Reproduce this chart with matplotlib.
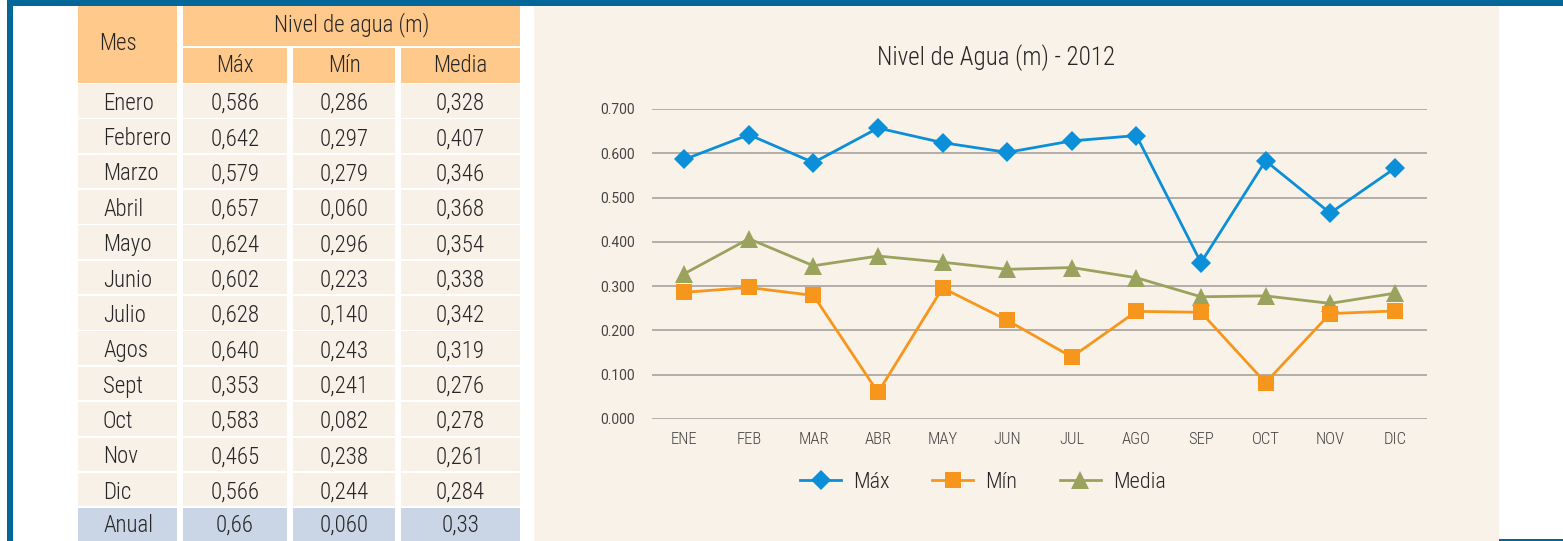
import matplotlib
matplotlib.use("Agg")
import matplotlib.pyplot as plt
from matplotlib.patches import Rectangle

# ---- data -------------------------------------------------------------
months_table = ["Enero", "Febrero", "Marzo", "Abril", "Mayo", "Junio",
                "Julio", "Agos", "Sept", "Oct", "Nov", "Dic"]
months_axis = ["ENE", "FEB", "MAR", "ABR", "MAY", "JUN",
               "JUL", "AGO", "SEP", "OCT", "NOV", "DIC"]
max_vals = [0.586, 0.642, 0.579, 0.657, 0.624, 0.602,
            0.628, 0.640, 0.353, 0.583, 0.465, 0.566]
min_vals = [0.286, 0.297, 0.279, 0.060, 0.296, 0.223,
            0.140, 0.243, 0.241, 0.082, 0.238, 0.244]
mean_vals = [0.328, 0.407, 0.346, 0.368, 0.354, 0.338,
             0.342, 0.319, 0.276, 0.278, 0.261, 0.284]
annual_labels = ["0,66", "0,060", "0,33"]
series_names = ["Máx", "Mín", "Media"]
y_ticks = [0.0, 0.1, 0.2, 0.3, 0.4, 0.5, 0.6, 0.7]

# ---- style ------------------------------------------------------------
BLUE_FRAME = "#03679A"
HEADER = "#FFC98B"
CELL = "#F8F1E8"
ANNUAL = "#CAD6E6"
PANEL = "#F9F2E8"
GRID = "#B3AEA9"
TEXT = "#262626"
C_MAX = "#0B8FD9"
C_MIN = "#F7961C"
C_MEAN = "#9AA35E"
COND = ["Roboto Condensed", "Liberation Sans", "DejaVu Sans"]
REG = ["Roboto", "Liberation Sans", "DejaVu Sans"]
TW = 300  # light weight for the condensed text

W, H = 1563, 541
fig = plt.figure(figsize=(W / 100, H / 100), dpi=100)
fig.patch.set_facecolor("white")

# page layer in pixel units (y downwards)
bg = fig.add_axes([0, 0, 1, 1])
bg.set_xlim(0, W)
bg.set_ylim(H, 0)
bg.axis("off")

def rect(x0, y0, x1, y1, color):
    bg.add_patch(Rectangle((x0, y0), x1 - x0, y1 - y0, facecolor=color,
                           edgecolor="none", lw=0))

def cell_text(x, y, s, ha="center"):
    bg.text(x, y, s, ha=ha, va="center", fontsize=16.5, family=COND,
            weight=TW, color=TEXT)

# frame
rect(7, 0, W, 5.5, BLUE_FRAME)
rect(7, 0, 12.5, H, BLUE_FRAME)
rect(1499, 538.5, W, H, BLUE_FRAME)

# chart panel
rect(534, 5.5, 1499, H, PANEL)

# ---- table ------------------------------------------------------------
cols = [(78, 177), (183, 287), (293, 395), (401, 520)]

# header
rect(cols[0][0], 5.5, cols[0][1], 82.5, HEADER)
rect(cols[1][0], 5.5, cols[3][1], 45.5, HEADER)
for (x0, x1) in cols[1:]:
    rect(x0, 47.5, x1, 82.5, HEADER)
cell_text(99, 44, "Mes", ha="left")
cell_text((cols[1][0] + cols[3][1]) / 2, 25, "Nivel de agua (m)")
for (x0, x1), name in zip(cols[1:], series_names):
    cell_text((x0 + x1) / 2, 65, name)

row_top = 84.0
pitch = 35.35
fmt = lambda v: f"{v:.3f}".replace(".", ",")
for i, month in enumerate(months_table):
    y0 = row_top + i * pitch
    y1 = y0 + pitch - 1.8
    for (x0, x1) in cols:
        rect(x0, y0, x1, y1, CELL)
    yc = (y0 + y1) / 2 + 2.5
    cell_text(103, yc, month, ha="left")
    for (x0, x1), v in zip(cols[1:], (max_vals[i], min_vals[i], mean_vals[i])):
        cell_text((x0 + x1) / 2, yc, fmt(v))

# annual row
y0 = row_top + len(months_table) * pitch
for (x0, x1) in cols:
    rect(x0, y0, x1, H, ANNUAL)
yc = y0 + 17
cell_text(103, yc, "Anual", ha="left")
for (x0, x1), lab in zip(cols[1:], annual_labels):
    cell_text((x0 + x1) / 2, yc, lab)

# ---- line chart -------------------------------------------------------
ax_l, ax_r, ax_t, ax_b = 652, 1427, 109, 419
ax = fig.add_axes([ax_l / W, (H - ax_b) / H, (ax_r - ax_l) / W,
                   (ax_b - ax_t) / H])
ax.set_facecolor("none")
x = range(len(months_axis))

ax.plot(x, max_vals, color=C_MAX, lw=2.0, marker="D", ms=10.5,
        mec=C_MAX, mew=0, label=series_names[0], zorder=4, clip_on=False)
ax.plot(x, min_vals, color=C_MIN, lw=2.0, marker="s", ms=11.5,
        mec=C_MIN, mew=0, label=series_names[1], zorder=3, clip_on=False)
ax.plot(x, mean_vals, color=C_MEAN, lw=2.0, marker="^", ms=13,
        mec=C_MEAN, mew=0, label=series_names[2], zorder=2, clip_on=False)

ax.set_xlim(-0.5, len(months_axis) - 0.5)
ax.set_ylim(0, 0.7)
ax.set_yticks(y_ticks)
ax.set_yticklabels([f"{v:.3f}" for v in y_ticks], family=REG, fontsize=10,
                   color="#444444")
ax.set_xticks(list(x))
ax.set_xticklabels(months_axis, family=COND, weight=TW, fontsize=12,
                   color="#444444")
ax.tick_params(axis="y", length=0, pad=12)
ax.tick_params(axis="x", length=0, pad=9)
ax.yaxis.grid(True, color=GRID, lw=1.4)
ax.set_axisbelow(True)
for s in ax.spines.values():
    s.set_visible(False)

fig.text(996 / W, 1 - 58 / H, "Nivel de Agua (m) - 2012", ha="center",
         va="center", fontsize=18, family=COND, weight=TW, color=TEXT)

leg = fig.legend(loc="center", bbox_to_anchor=(983 / W, 1 - 482 / H), ncol=3,
                 frameon=False,
                 prop={"family": COND, "size": 16, "weight": TW},
                 handlelength=1.85, handletextpad=0.55, columnspacing=1.9,
                 labelcolor=TEXT)

fig.savefig("out.png", dpi=100)
